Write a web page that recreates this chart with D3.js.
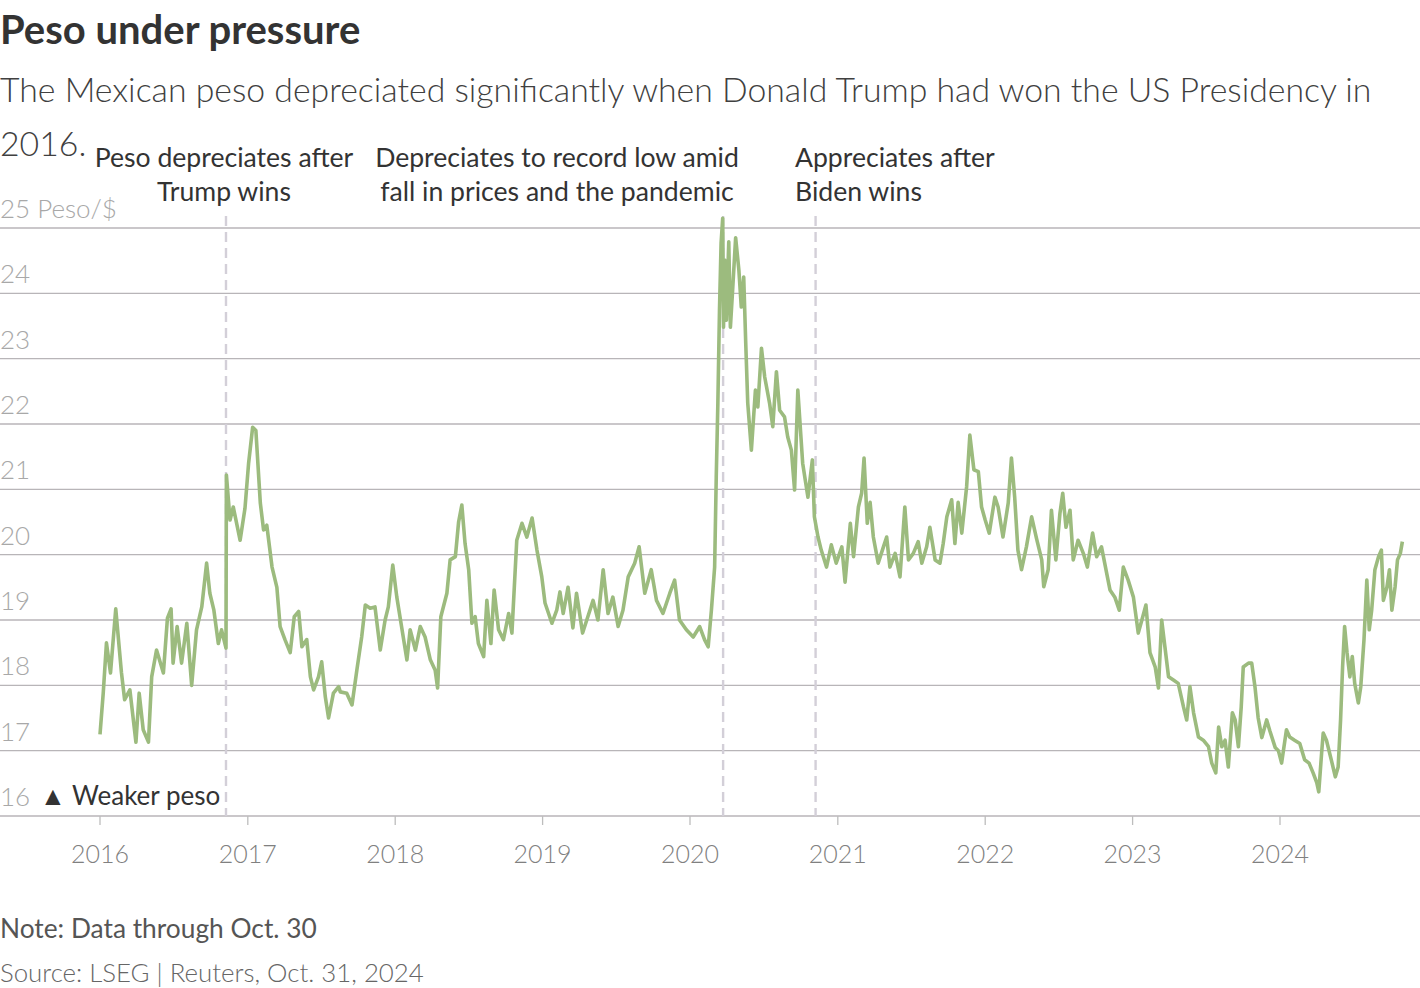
<!DOCTYPE html>
<html>
<head>
<meta charset="utf-8">
<script src="https://cdn.jsdelivr.net/npm/d3@7"></script>
<style>
  html, body { margin: 0; padding: 0; background: #fff; }
  svg { display: block; }
  text { font-family: Lato, "Noto Sans", sans-serif; }
</style>
</head>
<body>
<svg id="chart" width="1420" height="988"></svg>
<script>
// ---------------- DATA (USD/MXN, pesos per dollar) ----------------
const y2016 = [["2016-01-01",17.25],["2016-01-09",17.88],["2016-01-17",18.65],["2016-01-27",18.19],["2016-02-09",19.17],["2016-02-23",18.2],["2016-03-02",17.78],["2016-03-15",17.93],["2016-03-30",17.13],["2016-04-07",17.88],["2016-04-17",17.32],["2016-04-30",17.13],["2016-05-08",18.13],["2016-05-20",18.54],["2016-06-06",18.19],["2016-06-16",19.03],["2016-06-25",19.17],["2016-06-30",18.34],["2016-07-10",18.9],["2016-07-21",18.34],["2016-08-03",18.95],["2016-08-15",18.0],["2016-08-27",18.85],["2016-09-09",19.2],["2016-09-21",19.87],["2016-09-29",19.41],["2016-10-09",19.15],["2016-10-20",18.64],["2016-10-28",18.85],["2016-11-08",18.57],["2016-11-09",21.22],["2016-11-18",20.53],["2016-11-26",20.73],["2016-12-13",20.22],["2016-12-25",20.71]];
const y2017 = [["2017-01-03",21.4],["2017-01-13",21.95],["2017-01-21",21.9],["2017-02-01",20.79],["2017-02-09",20.38],["2017-02-17",20.45],["2017-03-02",19.81],["2017-03-14",19.5],["2017-03-22",18.9],["2017-04-03",18.7],["2017-04-16",18.5],["2017-04-26",19.05],["2017-05-07",19.13],["2017-05-15",18.59],["2017-05-27",18.7],["2017-06-05",18.13],["2017-06-13",17.93],["2017-06-25",18.13],["2017-07-03",18.36],["2017-07-12",17.82],["2017-07-20",17.5],["2017-08-01",17.88],["2017-08-14",17.98],["2017-08-18",17.9],["2017-09-03",17.88],["2017-09-16",17.7],["2017-09-28",18.23],["2017-10-10",18.74],["2017-10-19",19.23],["2017-10-31",19.18],["2017-11-12",19.2],["2017-11-25",18.54],["2017-12-07",19.0],["2017-12-15",19.2],["2017-12-26",19.84]];
const y2018 = [["2018-01-05",19.35],["2018-01-18",18.85],["2018-01-30",18.39],["2018-02-07",18.85],["2018-02-20",18.54],["2018-03-04",18.9],["2018-03-16",18.74],["2018-03-29",18.39],["2018-04-10",18.23],["2018-04-16",17.96],["2018-04-24",19.05],["2018-05-09",19.41],["2018-05-17",19.92],["2018-05-30",19.97],["2018-06-07",20.5],["2018-06-15",20.76],["2018-06-23",20.17],["2018-07-02",19.77],["2018-07-10",18.95],["2018-07-18",19.05],["2018-07-26",18.64],["2018-08-08",18.44],["2018-08-16",19.3],["2018-08-26",18.64],["2018-09-03",19.46],["2018-09-14",18.85],["2018-09-26",18.7],["2018-10-09",19.1],["2018-10-17",18.8],["2018-10-29",20.22],["2018-11-11",20.48],["2018-11-23",20.27],["2018-12-06",20.56],["2018-12-18",20.07],["2018-12-30",19.66]];
const y2019 = [["2019-01-07",19.26],["2019-01-24",18.95],["2019-02-05",19.15],["2019-02-13",19.43],["2019-02-21",19.1],["2019-03-05",19.5],["2019-03-17",18.88],["2019-03-26",19.41],["2019-04-10",18.8],["2019-04-23",19.05],["2019-05-06",19.3],["2019-05-18",19.0],["2019-05-31",19.77],["2019-06-12",19.1],["2019-06-24",19.35],["2019-07-07",18.9],["2019-07-19",19.15],["2019-08-01",19.66],["2019-08-17",19.87],["2019-08-28",20.12],["2019-09-11",19.41],["2019-09-27",19.77],["2019-10-10",19.3],["2019-10-26",19.1],["2019-11-12",19.41],["2019-11-24",19.61],["2019-12-06",19.0],["2019-12-23",18.85]];
const y2020 = [["2020-01-09",18.74],["2020-01-25",18.9],["2020-02-06",18.7],["2020-02-15",18.59],["2020-02-23",19.15],["2020-03-02",19.81],["2020-03-06",21.19],["2020-03-10",22.32],["2020-03-14",23.74],["2020-03-18",24.77],["2020-03-22",25.15],["2020-03-24",23.48],["2020-03-27",24.51],["2020-03-31",23.59],["2020-04-06",24.79],["2020-04-10",23.48],["2020-04-16",24.1],["2020-04-23",24.85],["2020-05-01",24.36],["2020-05-07",23.79],["2020-05-13",24.25],["2020-05-18",23.24],["2020-05-23",22.32],["2020-06-01",21.6],["2020-06-11",22.52],["2020-06-17",22.26],["2020-06-26",23.16],["2020-07-04",22.72],["2020-07-16",22.32],["2020-07-24",21.96],["2020-08-02",22.8],["2020-08-10",22.21],["2020-08-22",22.11],["2020-08-30",21.8],["2020-09-08",21.6],["2020-09-16",20.99],["2020-09-24",22.52],["2020-10-06",21.4],["2020-10-19",20.88],["2020-10-30",21.45],["2020-11-04",20.58],["2020-11-13",20.27],["2020-11-21",20.07],["2020-12-04",19.81],["2020-12-16",20.15],["2020-12-28",19.87]];
const y2021 = [["2021-01-11",20.12],["2021-01-19",19.58],["2021-02-01",20.48],["2021-02-09",19.97],["2021-02-21",20.73],["2021-03-01",20.94],["2021-03-07",21.48],["2021-03-15",20.48],["2021-03-22",20.8],["2021-03-30",20.27],["2021-04-11",19.87],["2021-04-24",20.12],["2021-05-02",20.27],["2021-05-10",19.81],["2021-05-23",20.02],["2021-06-04",19.66],["2021-06-16",20.73],["2021-06-25",19.92],["2021-07-07",20.02],["2021-07-19",20.2],["2021-07-28",19.87],["2021-08-09",20.12],["2021-08-17",20.42],["2021-08-30",19.92],["2021-09-11",19.87],["2021-09-19",20.17],["2021-09-28",20.58],["2021-10-10",20.84],["2021-10-18",20.17],["2021-10-26",20.8],["2021-11-04",20.33],["2021-11-16",21.04],["2021-11-24",21.83],["2021-12-04",21.3],["2021-12-15",21.27],["2021-12-23",20.73]];
const y2022 = [["2022-01-01",20.53],["2022-01-11",20.33],["2022-01-25",20.88],["2022-02-02",20.73],["2022-02-14",20.27],["2022-02-27",20.79],["2022-03-07",21.48],["2022-03-15",20.88],["2022-03-23",20.07],["2022-04-01",19.77],["2022-04-13",20.12],["2022-04-26",20.58],["2022-05-08",20.25],["2022-05-21",19.92],["2022-05-26",19.51],["2022-06-06",19.77],["2022-06-14",20.68],["2022-06-25",19.92],["2022-07-05",20.63],["2022-07-12",20.94],["2022-07-20",20.42],["2022-07-30",20.68],["2022-08-07",19.92],["2022-08-19",20.22],["2022-09-01",20.02],["2022-09-11",19.81],["2022-09-24",20.33],["2022-10-04",19.97],["2022-10-16",20.12],["2022-10-29",19.71],["2022-11-06",19.46],["2022-11-18",19.35],["2022-11-29",19.15],["2022-12-09",19.81],["2022-12-21",19.61]];
const y2023 = [["2023-01-03",19.35],["2023-01-15",18.8],["2023-01-24",19.0],["2023-02-03",19.23],["2023-02-13",18.5],["2023-02-26",18.28],["2023-03-06",17.96],["2023-03-14",19.0],["2023-03-22",18.59],["2023-03-31",18.13],["2023-04-12",18.08],["2023-04-24",18.03],["2023-05-07",17.67],["2023-05-15",17.47],["2023-05-23",17.98],["2023-06-01",17.58],["2023-06-13",17.21],["2023-06-25",17.16],["2023-07-08",17.06],["2023-07-16",16.81],["2023-07-26",16.66],["2023-08-02",17.36],["2023-08-10",17.06],["2023-08-18",17.16],["2023-08-26",16.75],["2023-09-05",17.58],["2023-09-12",17.47],["2023-09-20",17.06],["2023-09-27",17.67],["2023-10-02",18.28],["2023-10-15",18.34],["2023-10-23",18.34],["2023-10-31",17.98],["2023-11-08",17.5],["2023-11-17",17.2],["2023-11-29",17.47],["2023-12-07",17.3],["2023-12-20",17.05],["2023-12-28",17.0]];
const y2024 = [["2024-01-05",16.81],["2024-01-17",17.32],["2024-01-25",17.21],["2024-02-06",17.16],["2024-02-19",17.11],["2024-03-02",16.86],["2024-03-13",16.81],["2024-03-23",16.66],["2024-04-01",16.51],["2024-04-06",16.37],["2024-04-13",16.96],["2024-04-17",17.27],["2024-04-25",17.16],["2024-05-07",16.86],["2024-05-17",16.6],["2024-05-24",16.75],["2024-05-30",17.47],["2024-06-04",18.28],["2024-06-09",18.9],["2024-06-15",18.5],["2024-06-22",18.13],["2024-06-28",18.44],["2024-07-04",18.03],["2024-07-13",17.73],["2024-07-19",17.98],["2024-07-27",18.7],["2024-08-03",19.61],["2024-08-09",18.85],["2024-08-15",19.15],["2024-08-23",19.77],["2024-09-01",19.97],["2024-09-08",20.07],["2024-09-13",19.3],["2024-09-22",19.51],["2024-09-28",19.77],["2024-10-04",19.15],["2024-10-12",19.51],["2024-10-18",19.92],["2024-10-25",20.02],["2024-10-30",20.2]];

const yTicks = [16, 17, 18, 19, 20, 21, 22, 23, 24, 25];
const xTickYears = ["2016","2017","2018","2019","2020","2021","2022","2023","2024"];
const events = [
  { date: "2016-11-08", lines: ["Peso depreciates after", "Trump wins"], anchor: "middle" },
  { date: "2020-03-23", lines: ["Depreciates to record low amid", "fall in prices and the pandemic"], anchor: "middle" },
  { date: "2020-11-07", lines: ["Appreciates after", "Biden wins"], anchor: "start" }
];

// ---------------- CHART ----------------
const parse = d3.utcParse("%Y-%m-%d");
const data = [].concat(y2016, y2017, y2018, y2019, y2020, y2021, y2022, y2023, y2024)
  .map(([d, v]) => ({ date: parse(d), value: v }));

const svg = d3.select("#chart");
const W = 1420;

const x = d3.scaleUtc()
  .domain([parse("2016-01-01"), parse("2024-01-01")])
  .range([100, 1280]);
const y = d3.scaleLinear().domain([16, 25]).range([816, 228]);

// Title & subtitle
svg.append("text").attr("x", 0).attr("y", 44)
  .attr("font-size", 40).attr("font-weight", 700).attr("fill", "#333")
  .text("Peso under pressure");
const sub = svg.append("text").attr("font-size", 33.8).attr("font-weight", 300).attr("fill", "#404040");
sub.append("tspan").attr("x", 0).attr("y", 102)
  .text("The Mexican peso depreciated significantly when Donald Trump had won the US Presidency in");
sub.append("tspan").attr("x", 0).attr("y", 156).text("2016.");

// Gridlines
svg.append("g").selectAll("line").data(yTicks).join("line")
  .attr("x1", 0).attr("x2", W)
  .attr("y1", d => y(d)).attr("y2", d => y(d))
  .attr("stroke", "#b8b5b8").attr("stroke-width", 1.4);

// Y labels
svg.append("g").selectAll("text").data(yTicks).join("text")
  .attr("x", 0).attr("y", d => y(d) - 10)
  .attr("font-size", 26).attr("font-weight", 300).attr("fill", "#a8a8a8")
  .text(d => d === 25 ? "25 Peso/$" : d);

// X axis ticks
const xTicks = xTickYears.map(s => parse(s + "-01-01"));
const xg = svg.append("g");
xg.selectAll("line").data(xTicks).join("line")
  .attr("x1", d => x(d)).attr("x2", d => x(d))
  .attr("y1", y(16)).attr("y2", y(16) + 9)
  .attr("stroke", "#bdbdbd").attr("stroke-width", 1.3);
xg.selectAll("text").data(xTicks).join("text")
  .attr("x", d => x(d)).attr("y", 863)
  .attr("text-anchor", "middle")
  .attr("font-size", 25).attr("font-weight", 300).attr("fill", "#808080")
  .text(d => d3.utcFormat("%Y")(d));

// Event lines
svg.append("g").selectAll("line").data(events).join("line")
  .attr("x1", d => x(parse(d.date))).attr("x2", d => x(parse(d.date)))
  .attr("y1", 216).attr("y2", y(16))
  .attr("stroke", "#d3cfd8").attr("stroke-width", 2.4)
  .attr("stroke-dasharray", "10,6");

// Event annotations
const ann = svg.append("g");
events.forEach((e, i) => {
  const cx = [224, 557, 795][i];
  const t = ann.append("text")
    .attr("font-size", 26.6).attr("fill", "#333")
    .attr("text-anchor", e.anchor);
  e.lines.forEach((l, j) => {
    t.append("tspan").attr("x", cx).attr("y", 167 + j * 34).text(l);
  });
});

// Line
svg.append("path").datum(data)
  .attr("fill", "none")
  .attr("stroke", "#9cbb7e")
  .attr("stroke-width", 3.6)
  .attr("stroke-linejoin", "round")
  .attr("d", d3.line().x(d => x(d.date)).y(d => y(d.value)));

// Weaker peso label
svg.append("rect").attr("x", 36).attr("y", 780).attr("width", 186).attr("height", 32).attr("fill", "#fff");
svg.append("text").attr("x", 40).attr("y", 805)
  .attr("font-size", 26).attr("fill", "#333")
  .text("▲ Weaker peso");

// Footer
svg.append("text").attr("x", 0).attr("y", 938)
  .attr("font-size", 26.3).attr("fill", "#555")
  .text("Note: Data through Oct. 30");
svg.append("text").attr("x", 0).attr("y", 982)
  .attr("font-size", 25.8).attr("font-weight", 300).attr("fill", "#666")
  .text("Source: LSEG | Reuters, Oct. 31, 2024");
</script>
</body>
</html>
